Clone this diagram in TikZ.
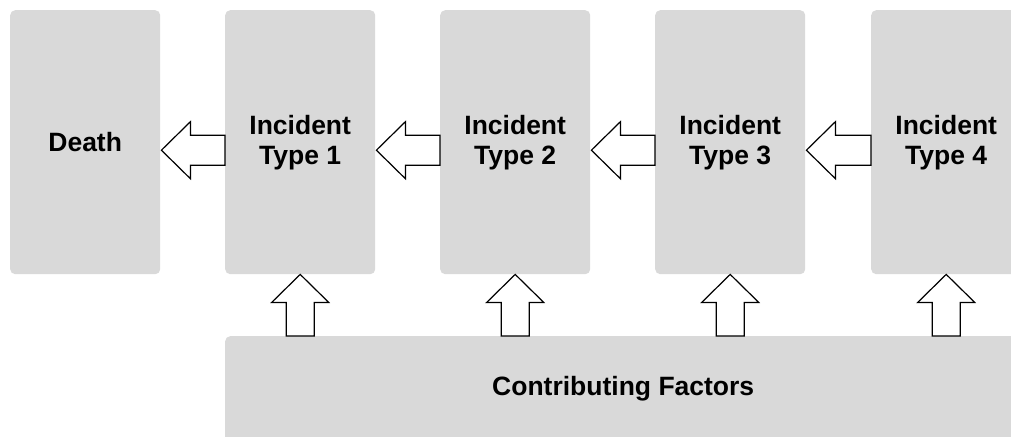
\documentclass[tikz,border=0pt]{standalone}
\usepackage{fontspec}
\setmainfont{Liberation Sans}
\usetikzlibrary{calc}
\definecolor{boxgray}{RGB}{217,217,217}
\newcommand\leftblockarrow[2]{%
  \draw[blockarrow] ($(#1.east)+(1,8)$) -- ++(29,-28.5) -- ++(0,13.5)
    -- ($(#2.west)+(0,-7)$) -- ++(0,30) -- ($(#1.east)+(30,23)$) -- ++(0,13.5) -- cycle;}
\newcommand\upblockarrow[2]{%
  \draw[blockarrow] ($(#1.south)+(0,0)$) -- ++(28.5,28) -- ++(-14.5,0)
    -- ($(#1.south |- #2.north)+(14,0)$) -- ++(-28,0) -- ($(#1.south)+(-14,28)$) -- ++(-14.5,0) -- cycle;}
\begin{document}
\begin{tikzpicture}[x=1pt,y=-1pt,
  box/.style={fill=boxgray, rounded corners=5pt, inner sep=0pt, minimum width=150pt,
    minimum height=264pt, anchor=north west, align=center,
    font=\fontsize{26.5}{30}\selectfont\bfseries},
  blockarrow/.style={draw=black, fill=white, line width=1.2pt, line join=miter}]
\useasboundingbox (0,0) rectangle (1011,436);
\clip (0,0) rectangle (1011,436);
\node[box] (death) at (10,10) {Death};
\node[box] (t1) at (225,10) {Incident\\Type 1};
\node[box] (t2) at (440,10) {Incident\\Type 2};
\node[box] (t3) at (655,10) {Incident\\Type 3};
\node[box] (t4) at (871,10) {Incident\\Type 4};
\node[box, minimum width=796pt, minimum height=106pt] (cf) at (225,336) {Contributing Factors};
\leftblockarrow{death}{t1}
\leftblockarrow{t1}{t2}
\leftblockarrow{t2}{t3}
\leftblockarrow{t3}{t4}
\upblockarrow{t1}{cf}
\upblockarrow{t2}{cf}
\upblockarrow{t3}{cf}
\upblockarrow{t4}{cf}
\end{tikzpicture}
\end{document}
